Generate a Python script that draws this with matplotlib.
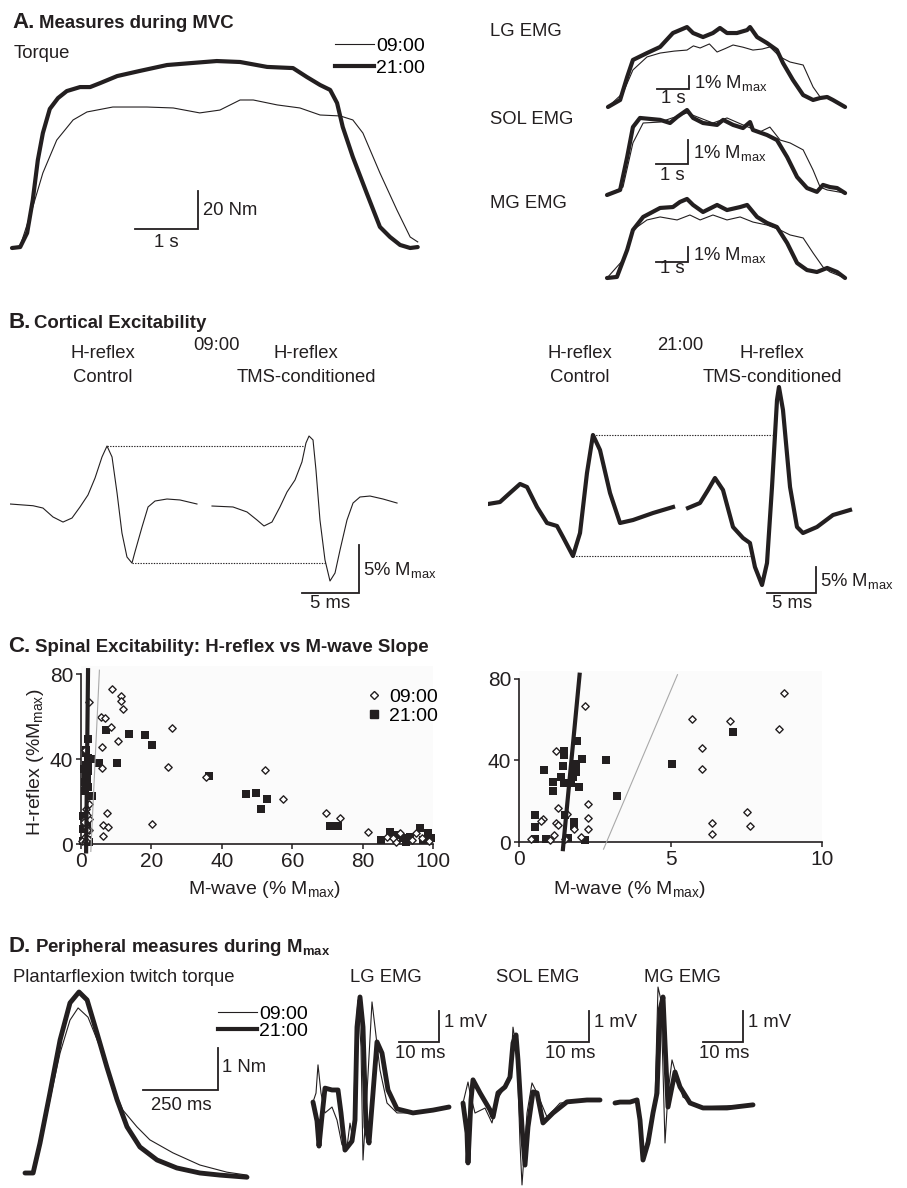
import matplotlib
matplotlib.use("Agg")
import numpy as np
import matplotlib.pyplot as plt
from matplotlib.lines import Line2D

plt.rcParams.update({
    "font.family": ["Liberation Sans", "DejaVu Sans"],
    "mathtext.fontset": "custom",
    "mathtext.rm": "Liberation Sans",
    "mathtext.it": "Liberation Sans:italic",
    "mathtext.bf": "Liberation Sans:bold",
    "font.size": 13.3,
})

INK = "#231f20"
GREY = "#a9a9a9"
THIN = 0.8
THICK = 3.0
MMAX = r"M$_{\mathrm{max}}$"

# ---------------- A: MVC torque (s, Nm) ----------------
torque_t_0900 = [0, 0.13, 0.33, 0.49, 0.71, 0.97, 1.19, 1.60, 2.14, 2.56, 2.98, 3.30, 3.62, 3.83,
                 4.21, 4.57, 4.89, 5.21, 5.41, 5.57, 5.84, 6.11, 6.32, 6.44]
torque_0900 = [0, 1.1, 21.6, 39.5, 56.8, 67.4, 71.6, 74.2, 74.2, 73.7, 71.1, 72.6, 77.9, 77.9,
               75.3, 73.7, 70.0, 69.5, 67.4, 60.5, 39.5, 20.0, 5.8, 3.2]
torque_t_2100 = [0, 0.13, 0.24, 0.33, 0.41, 0.49, 0.60, 0.73, 0.87, 1.08, 1.24, 1.40, 1.67, 2.03,
                 2.46, 2.87, 3.25, 3.62, 4.05, 4.46, 4.68, 4.89, 5.05, 5.16, 5.25, 5.41, 5.63,
                 5.84, 6.00, 6.16, 6.32, 6.44]
torque_2100 = [0, 0.5, 7.9, 25.3, 46.3, 60.5, 73.2, 78.9, 82.6, 84.7, 84.7, 86.8, 90.5, 93.2,
               96.3, 97.4, 98.4, 97.9, 95.3, 94.7, 90.0, 85.8, 83.2, 76.3, 63.7, 47.9, 28.9,
               11.1, 5.8, 1.6, 0, 0.5]

# ---------------- A: MVC EMG (s, % Mmax) ----------------
lg_t_2100 = [0.03, 0.41, 0.63, 0.81, 1.25, 1.66, 2.06, 2.50, 2.69, 3.00, 3.31, 3.53, 3.75, 4.06,
             4.38, 4.47, 4.69, 5.00, 5.31, 5.50, 5.81, 6.13, 6.44, 6.66, 6.88, 7.06, 7.44]
lg_2100 = [0, 0.54, 2.31, 3.62, 4.15, 4.62, 5.69, 6.15, 5.69, 5.38, 5.69, 6.08, 5.69, 5.69,
           5.92, 6.15, 5.38, 4.92, 4.38, 3.38, 2.08, 0.92, 0.54, 0.69, 0.77, 0.54, 0]
lg_t_0900 = [0.03, 0.50, 0.81, 1.25, 1.66, 2.10, 2.50, 2.70, 2.91, 3.20, 3.44, 3.70, 3.94, 4.25,
             4.56, 4.85, 5.09, 5.41, 5.72, 6.13, 6.44, 6.66, 6.88, 7.44]
lg_0900 = [0, 1.08, 2.85, 3.85, 4.15, 4.30, 4.38, 4.70, 4.54, 4.85, 4.23, 4.50, 4.77, 4.60,
           4.38, 4.46, 4.62, 3.85, 3.46, 3.23, 1.54, 0.77, 0.69, 0]

sol_t_2100 = [0, 0.41, 0.63, 0.81, 1.03, 1.66, 1.97, 2.19, 2.50, 2.69, 3.00, 3.44, 3.63, 3.94,
              4.25, 4.47, 4.56, 5.00, 5.31, 5.63, 5.94, 6.25, 6.56, 6.75, 6.97, 7.19, 7.44]
sol_2100 = [0, 0.21, 1.58, 2.83, 3.21, 3.13, 3.00, 3.25, 3.54, 3.21, 3.00, 2.92, 3.13, 2.92,
            2.79, 3.04, 2.71, 2.50, 2.29, 1.58, 0.75, 0.29, 0.13, 0.42, 0.33, 0.29, 0.08]
sol_t_0900 = [0, 0.50, 0.81, 1.13, 1.66, 2.50, 3.31, 3.75, 4.25, 4.78, 5.09, 5.41, 5.72, 6.13,
              6.44, 6.66, 6.88, 7.44]
sol_0900 = [0, 0.33, 2.17, 3.00, 3.04, 3.42, 3.00, 3.21, 2.92, 2.63, 2.83, 2.29, 2.17, 1.88,
            1.04, 0.33, 0.21, 0.08]

mg_t_2100 = [0, 0.31, 0.63, 0.81, 1.13, 1.66, 2.06, 2.28, 2.50, 2.69, 3.00, 3.44, 3.75, 4.16,
             4.38, 4.69, 5.00, 5.31, 5.63, 5.94, 6.25, 6.56, 6.88, 7.19, 7.44]
mg_2100 = [0, 0.07, 1.87, 3.20, 4.07, 4.67, 4.73, 5.07, 5.27, 4.87, 4.40, 4.87, 4.53, 4.73,
           4.87, 4.07, 3.67, 3.40, 2.33, 1.00, 0.53, 0.40, 0.67, 0.40, 0]
mg_t_0900 = [0, 0.50, 0.81, 1.25, 1.66, 2.19, 2.59, 2.91, 3.31, 3.75, 4.16, 4.56, 5.00, 5.41,
             5.72, 6.13, 6.44, 6.75, 6.97, 7.44]
mg_0900 = [0, 1.20, 3.20, 3.87, 4.07, 3.87, 4.20, 3.87, 4.20, 3.87, 4.07, 3.73, 3.53, 3.20,
           2.87, 2.67, 1.67, 0.73, 0.40, 0]

# ---------------- B: H-reflex traces (ms, % Mmax) ----------------
ctrl_t_0900 = [0, 2.02, 2.89, 3.77, 4.65, 5.44, 6.14, 6.84, 7.46, 8.07, 8.51, 8.95, 9.39, 9.82,
               10.26, 10.70, 10.96, 11.58, 12.11, 12.72, 13.77, 14.91, 16.40]
ctrl_0900 = [0, -0.18, -0.42, -1.35, -1.88, -1.46, -0.31, 0.94, 2.71, 4.90, 6.04, 4.90, 1.15,
             -3.02, -5.52, -6.15, -5.00, -2.40, -0.31, 0.31, 0.52, 0.42, 0]
tms_t_0900 = [17.72, 19.56, 20.79, 21.67, 22.28, 22.98, 23.68, 24.30, 25.00, 25.61, 25.96, 26.23,
              26.58, 26.84, 27.19, 27.63, 28.07, 28.51, 28.95, 29.56, 30.09, 30.70, 31.58, 32.72,
              33.95]
tms_0900 = [-0.21, -0.31, -0.83, -1.67, -2.29, -1.88, -0.31, 1.25, 2.50, 4.38, 6.35, 7.08, 6.67,
            3.54, -1.67, -5.83, -8.02, -7.19, -4.79, -1.67, 0.10, 0.73, 0.83, 0.52, 0.10]
ctrl_t_2100 = [0, 1.22, 2.24, 3.27, 3.98, 5.00, 6.02, 7.04, 7.65, 8.67, 9.39, 10.10, 10.71,
               11.43, 12.45, 13.47, 14.80, 16.84, 18.88]
ctrl_2100 = [0, 0.38, 2.12, 3.85, 3.27, -0.58, -3.65, -4.23, -6.35, -10.0, -5.58, 5.96, 13.27,
             10.38, 2.12, -3.65, -3.08, -1.73, -0.58]
tms_t_2100 = [20.41, 21.63, 22.45, 23.16, 23.98, 25.00, 26.02, 26.73, 27.24, 27.96, 28.47,
              28.98, 29.49, 29.69, 30.10, 30.82, 31.53, 32.14, 33.57, 35.20, 36.94]
tms_2100 = [-0.77, 0.19, 2.69, 5.00, 2.69, -4.42, -6.54, -7.50, -12.12, -15.58, -11.35, 3.27,
            20.0, 22.5, 18.08, 3.27, -4.42, -5.58, -4.42, -2.12, -1.15]

# ---------------- C: H-reflex vs M-wave (% Mmax) ----------------
mwave_0900 = [2.19, 5.72, 6.95, 8.73, 8.58, 6.05, 6.05, 6.38, 6.38, 7.52, 7.61, 1.21, 1.29, 1.21,
              1.29, 0.79, 0.72, 2.29, 2.29, 2.29, 1.57, 1.81, 1.15, 0.41, 2.04, 1.01, 1.51,
              10.6, 11.5, 11.3, 11.8, 25.9, 24.8, 35.4, 52.2, 57.4, 20.1, 69.5, 73.5, 81.6,
              86.8, 89.6, 90.5, 95.3, 88.6, 94.0, 99.0, 97.0]
hreflex_0900 = [66.9, 60.1, 59.3, 73.1, 55.3, 45.9, 35.9, 9.1, 3.9, 14.7, 8.0, 44.4, 16.7, 9.3,
                8.2, 11.4, 10.3, 18.8, 11.9, 6.5, 13.9, 6.5, 3.3, 1.3, 2.4, 0.8, 1.3,
                48.7, 69.8, 67.6, 63.5, 54.9, 36.2, 31.8, 34.9, 21.2, 9.4, 14.8, 12.1, 5.8,
                3.5, 1.1, 5.3, 5.0, 2.7, 1.9, 1.5, 3.0]
mwave_2100 = [5.06, 7.06, 2.87, 3.22, 1.90, 1.49, 1.49, 2.09, 0.83, 1.46, 1.87, 1.87, 1.37, 1.12,
              1.12, 1.49, 1.73, 1.99, 1.79, 0.52, 0.52, 1.81, 1.81, 0.52, 0.90, 1.62, 2.17, 1.53,
              10.3, 13.6, 18.2, 20.3, 36.4, 46.8, 49.7, 52.7, 51.0, 70.7, 73.0, 85.3, 87.7,
              89.6, 91.5, 93.4, 96.4, 98.6, 99.5, 92.4, 97.3]
hreflex_2100 = [38.0, 53.9, 40.0, 22.5, 49.3, 44.4, 42.8, 40.8, 35.4, 37.2, 38.4, 34.3, 31.8, 29.4,
                25.0, 28.9, 28.9, 26.9, 31.8, 13.1, 7.3, 9.8, 7.7, 1.3, 1.6, 2.1, 0.8, 13.1,
                38.0, 51.7, 51.4, 46.7, 32.1, 23.6, 23.9, 21.2, 16.4, 8.5, 8.5, 1.9, 5.8,
                4.2, 2.7, 3.5, 7.4, 5.0, 2.7, 1.1, 1.9]
fit_x_0900 = [2.79, 5.23]
fit_y_0900 = [-3.5, 82]
fit_x_2100 = [1.45, 2.00]
fit_y_2100 = [-3.5, 82]

# ---------------- D: Mmax twitch (ms, Nm) ----------------
twitch_t_0900 = [0, 27, 50, 83, 117, 150, 177, 210, 250, 293, 326, 373, 416, 493, 583, 673, 740]
twitch_0900 = [0, 0, 0.62, 1.74, 2.86, 3.64, 3.93, 3.71, 3.00, 2.05, 1.50, 1.10, 0.79, 0.48,
               0.19, 0.02, -0.05]
twitch_t_2100 = [0, 27, 50, 83, 117, 150, 180, 207, 240, 273, 307, 340, 383, 440, 506, 583,
                 650, 740]
twitch_2100 = [0, 0, 0.71, 1.90, 3.17, 4.05, 4.31, 4.12, 3.33, 2.52, 1.74, 1.10, 0.62, 0.31,
               0.12, 0, -0.05, -0.10]

# ---------------- D: M-waves (ms, mV) ----------------
mlg_t_2100 = [0, 1.0, 1.5, 2.25, 3.0, 4.75, 6.25, 7.0, 8.0, 9.75, 10.5, 11.0, 11.75, 12.5, 13.25,
              14.0, 15.0, 16.0, 17.25, 18.75, 21.0, 25.0, 30.0, 34.0]
mlg_2100 = [0.03, -0.58, -1.39, -0.42, 0.48, 0.42, 0.42, -0.32, -1.52, -1.23, -0.55, 2.45,
            3.42, 2.45, -0.77, -1.29, 0.32, 1.97, 1.61, 0.42, -0.19, -0.32, -0.23, -0.13]
mlg_t_0900 = [0, 0.75, 1.25, 2.0, 3.0, 4.75, 6.0, 7.25, 8.5, 9.25, 10.0, 10.75, 11.25, 12.0,
              12.5, 13.5, 14.75, 15.5, 16.75, 18.5, 21.0, 26.75, 34.0]
mlg_0900 = [0.03, 0.32, 1.23, 0.32, -0.32, -0.13, -0.55, -1.35, -1.42, -0.65, -1.19, 2.45,
            3.32, 1.81, -1.84, 0.32, 3.26, 2.45, 1.06, 0, -0.32, -0.32, -0.13]
msol_t_2100 = [0, 1.0, 1.25, 2.0, 2.5, 4.25, 6.75, 7.5, 8.75, 10.5, 11.75, 12.5, 13.25, 13.75,
               14.75, 15.5, 16.25, 17.5, 18.5, 20.0, 22.5, 26.0, 31.0, 34.25]
msol_2100 = [-0.1, -1.06, -2.03, 0, 0.65, 0.23, -0.32, -0.55, 0.23, 0.42, 0.74, 1.84, 2.10, 1.29,
             -0.87, -2.10, -0.87, 0.26, 0.23, -0.74, -0.42, -0.06, 0, 0]
msol_t_0900 = [0, 1.25, 1.75, 3.0, 5.5, 7.25, 8.5, 10.0, 11.75, 12.5, 13.5, 14.25, 14.75, 16.0,
               17.25, 18.5, 21.0, 24.25, 31.0, 34.25]
msol_0900 = [-0.1, 0.58, 0.23, -0.42, -0.26, -0.74, 0, 0.32, 0.65, 2.35, 1.52, -1.39, -2.74,
             -0.42, 0.55, 0.23, -0.55, -0.1, 0, 0]
mmg_t_2100 = [0, 1.25, 3.75, 5.5, 6.25, 7.0, 8.25, 9.5, 10.5, 11.25, 12.0, 12.5, 13.25, 14.25,
              15.0, 16.25, 18.75, 22.0, 28.0, 34.5]
mmg_2100 = [0, 0.03, 0.03, 0.1, -0.55, -1.84, -1.29, -0.32, 0.32, 3.0, 3.42, 1.94, -0.13, 0.52,
            1.0, 0.52, 0, -0.16, -0.16, -0.06]
mmg_t_0900 = [0, 5.5, 6.25, 7.0, 8.75, 10.0, 10.75, 11.5, 12.0, 12.5, 13.25, 14.25, 15.5, 17.0,
              21.25, 34.5]
mmg_0900 = [0, 0.1, -0.77, -1.74, -0.77, 0.1, 3.74, 3.32, 1.06, -1.29, 0.32, 1.39, 0.84, 0.19,
            -0.13, -0.06]

# ---------------------------------------------------------------------------
W, H = 907, 1188
fig = plt.figure(figsize=(W / 100, H / 100), dpi=100)


def fx(px):
    return px / W


def fy(py):
    return 1 - py / H


def txt(px, py, s, **kw):
    kw.setdefault("ha", "center")
    kw.setdefault("va", "center")
    kw.setdefault("color", INK)
    fig.text(fx(px), fy(py), s, **kw)


def trace_axes(x0, y0, sx, sy, xlim, ylim, off=True):
    # x0/y0: pixel of the data origin, sx/sy: pixels per data unit
    left, right = x0 + xlim[0] * sx, x0 + xlim[1] * sx
    top, bottom = y0 - ylim[1] * sy, y0 - ylim[0] * sy
    ax = fig.add_axes([fx(left), fy(bottom), (right - left) / W, (bottom - top) / H])
    ax.set_xlim(xlim)
    ax.set_ylim(ylim)
    if off:
        ax.axis("off")
    return ax


def scalebar(ax, x, y, dx, dy, ylab, xlab, ylab_pos, xlab_pos):
    ax.plot([x - dx, x, x], [y, y, y + dy], color=INK, lw=1.3, solid_joinstyle="miter",
            clip_on=False)
    ax.text(*ylab_pos, ylab, ha="left", va="center", color=INK)
    ax.text(*xlab_pos, xlab, ha="center", va="center", color=INK)


def pair(ax, t1, v1, t2, v2, thick=THICK):
    ax.plot(t1, v1, color=INK, lw=THIN, clip_on=False, solid_joinstyle="round")
    ax.plot(t2, v2, color=INK, lw=thick, clip_on=False, solid_capstyle="round",
            solid_joinstyle="round")


def title(px_letter, px_rest, py, letter, rest):
    txt(px_letter, py, letter, ha="left", va="baseline", fontsize=16, fontweight="bold")
    txt(px_rest, py, rest, ha="left", va="baseline", fontsize=13.4, fontweight="bold")


time_handles = [Line2D([], [], color=INK, lw=THIN), Line2D([], [], color=INK, lw=THICK)]
time_labels = ["09:00", "21:00"]

# ---------------- Panel A ----------------
title(12, 39, 28, "A.", "Measures during MVC")
txt(14, 53, "Torque", ha="left")
ax = trace_axes(12, 248, 63, 1.9, (0, 6.5), (0, 100))
pair(ax, torque_t_0900, torque_0900, torque_t_2100, torque_2100)
scalebar(ax, 2.95, 10, 1, 20, "20 Nm", "1 s", (3.03, 19.5), (2.45, 3.0))
fig.legend(time_handles, time_labels, loc="upper left", bbox_to_anchor=(fx(335), fy(37)),
           frameon=False, handlelength=2.0, handletextpad=0.1, labelspacing=0.25,
           borderpad=0, borderaxespad=0, fontsize=14)

emg_rows = [
    ("LG EMG", 32, 107, 13, (0, 6.5), lg_t_0900, lg_0900, lg_t_2100, lg_2100, 2.56, 1.38, 0.69),
    ("SOL EMG", 120, 195, 24, (0, 3.7), sol_t_0900, sol_0900, sol_t_2100, sol_2100, 2.53, 1.29, 0.83),
    ("MG EMG", 203, 278, 15, (0, 5.5), mg_t_0900, mg_0900, mg_t_2100, mg_2100, 2.53, 1.07, 0.62),
]
for name, ly, base, sy, ylim, t1, v1, t2, v2, bx, by, sly in emg_rows:
    txt(490, ly, name, ha="left")
    ax = trace_axes(607, base, 32, sy, (0, 7.5), ylim)
    pair(ax, t1, v1, t2, v2)
    scalebar(ax, bx, by, 1, 1, "1% " + MMAX, "1 s", (bx + 0.17, by + 0.45), (bx - 0.5, sly))

# ---------------- Panel B ----------------
title(8, 34, 328, "B.", "Cortical Excitability")
for cx, lab in [(103, "Control"), (306, "TMS-conditioned"), (580, "Control"), (772, "TMS-conditioned")]:
    txt(cx, 353, "H-reflex")
    txt(cx, 377, lab)
txt(217, 345, "09:00")
txt(680, 345, "21:00")

ax = trace_axes(10, 504, 11.4, 9.6, (0, 35), (-10, 8))
ax.plot(ctrl_t_0900, ctrl_0900, color=INK, lw=THIN)
ax.plot(tms_t_0900, tms_0900, color=INK, lw=THIN)
ax.plot([ctrl_t_0900[int(np.argmax(ctrl_0900))], 25.7], [max(ctrl_0900)] * 2,
        color=INK, lw=0.8, ls=(0, (1.2, 1.2)))
ax.plot([ctrl_t_0900[int(np.argmin(ctrl_0900))], 27.7], [min(ctrl_0900)] * 2,
        color=INK, lw=0.8, ls=(0, (1.2, 1.2)))
scalebar(ax, 30.61, -9.27, 5, 5, "5% " + MMAX, "5 ms", (30.95, -6.9), (28.1, -10.4))

ax = trace_axes(488, 504, 9.8, 5.2, (0, 40), (-20, 24))
ax.plot(ctrl_t_2100, ctrl_2100, color=INK, lw=THICK, solid_joinstyle="round")
ax.plot(tms_t_2100, tms_2100, color=INK, lw=THICK, solid_joinstyle="round")
ax.plot([ctrl_t_2100[int(np.argmax(ctrl_2100))], 29.0], [max(ctrl_2100)] * 2,
        color=INK, lw=0.8, ls=(0, (1.2, 1.2)))
ax.plot([ctrl_t_2100[int(np.argmin(ctrl_2100))], 26.7], [min(ctrl_2100)] * 2,
        color=INK, lw=0.8, ls=(0, (1.2, 1.2)))
scalebar(ax, 33.47, -17.1, 5, 5, "5% " + MMAX, "5 ms", (33.9, -14.8), (31.0, -19.2))

# ---------------- Panel C ----------------
title(8, 35, 652, "C.", "Spinal Excitability: H-reflex vs M-wave Slope")
mw9, hr9 = np.array(mwave_0900), np.array(hreflex_0900)
mw21, hr21 = np.array(mwave_2100), np.array(hreflex_2100)


def scatter_panel(ax, xmax, xticks):
    keep9 = mw9 <= xmax
    keep21 = mw21 <= xmax
    ax.set_facecolor("#fbfbfb")
    ax.scatter(mw21[keep21], hr21[keep21], marker="s", s=32, color=INK, lw=0,
               clip_on=False, zorder=3)
    ax.scatter(mw9[keep9], hr9[keep9], marker="D", s=14, facecolor="white", edgecolor=INK,
               lw=1.0, clip_on=False, zorder=3)
    ax.plot(fit_x_0900, fit_y_0900, color=GREY, lw=THIN, clip_on=False, zorder=4)
    ax.plot(fit_x_2100, fit_y_2100, color=INK, lw=THICK, clip_on=False, zorder=4)
    for s in ("top", "right"):
        ax.spines[s].set_visible(False)
    ax.spines["left"].set_bounds(0, 80)
    ax.spines["bottom"].set_bounds(0, xmax)
    for s in ("left", "bottom"):
        ax.spines[s].set_linewidth(1.2)
        ax.spines[s].set_color(INK)
    ax.set_xticks(xticks)
    ax.set_yticks([0, 40, 80])
    ax.tick_params(direction="out", length=3.6, width=1.1, labelsize=15, pad=2, colors=INK)


ax = trace_axes(81, 844, 3.52, 2.12, (0, 100), (0, 84), off=False)
scatter_panel(ax, 100, [0, 20, 40, 60, 80, 100])
ax.legend([Line2D([], [], marker="D", ls="none", mfc="white", mec=INK, ms=4.5, mew=1.0),
           Line2D([], [], marker="s", ls="none", color=INK, ms=6)],
          time_labels, loc="upper left", bbox_to_anchor=(fx(366), fy(688)),
          bbox_transform=fig.transFigure, frameon=False, handlelength=0.8,
          handletextpad=0.4, labelspacing=0.1, borderpad=0, borderaxespad=0, fontsize=14)
txt(36, 762, "H-reflex (%" + MMAX + ")", rotation=90, fontsize=14)
txt(264, 889, "M-wave (% " + MMAX + ")", fontsize=14)

ax = trace_axes(519, 842, 30.3, 2.04, (0, 10), (0, 84), off=False)
scatter_panel(ax, 10, [0, 5, 10])
txt(629, 889, "M-wave (% " + MMAX + ")", fontsize=14)

# ---------------- Panel D ----------------
title(8, 35, 952, "D.", r"Peripheral measures during M$_{\mathbf{max}}$")
txt(13, 978, "Plantarflexion twitch torque", ha="left")
ax = trace_axes(25, 1173, 0.3, 42, (-20, 760), (-0.3, 4.6))
pair(ax, twitch_t_0900, twitch_0900, twitch_t_2100, twitch_2100, thick=3.5)
scalebar(ax, 643, 1.98, 250, 1, "1 Nm", "250 ms", (656, 2.5), (520, 1.6))
fig.legend(time_handles, time_labels, loc="upper left", bbox_to_anchor=(fx(218), fy(1005)),
           frameon=False, handlelength=2.0, handletextpad=0.1, labelspacing=0.0,
           borderpad=0, borderaxespad=0, fontsize=14)

mwave_rows = [
    ("LG EMG", 386, 313, 1103, (-2.2, 3.6), mlg_t_0900, mlg_0900, mlg_t_2100, mlg_2100, 31.5, 1.97),
    ("SOL EMG", 538, 463, 1100, (-3.0, 3.6), msol_t_0900, msol_0900, msol_t_2100, msol_2100, 31.5, 1.87),
    ("MG EMG", 682, 615, 1103, (-2.2, 3.9), mmg_t_0900, mmg_0900, mmg_t_2100, mmg_2100, 32.0, 1.97),
]
for name, lx, x0, base, ylim, t1, v1, t2, v2, bx, by in mwave_rows:
    txt(lx, 977, name)
    ax = trace_axes(x0, base, 4, 31, (-1, 36), ylim)
    pair(ax, t1, v1, t2, v2, thick=3.5)
    scalebar(ax, bx, by, 10, 1, "1 mV", "10 ms", (bx + 1.2, by + 0.62), (bx - 4.6, by - 0.37))

fig.savefig("out.png", dpi=100)
